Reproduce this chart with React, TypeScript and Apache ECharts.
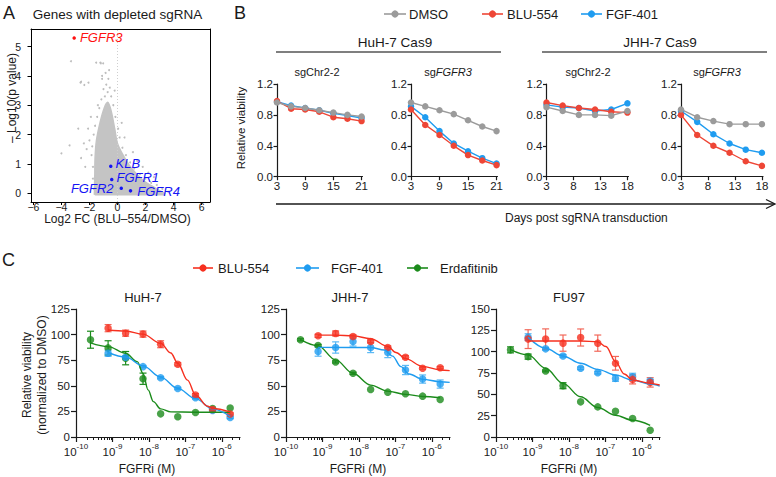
import React, { useEffect, useRef } from "react";
import * as echarts from "echarts";

const FONT = '"Liberation Sans", Arial, Helvetica, sans-serif';
const INK = "#1a1a1a";

const A_X_TICKS = [-6, -4, -2, 0, 2, 4, 6];
const A_Y_TICKS = [0, 1, 2, 3, 4, 5];
const A_CLOUD_TOP = [
  [-1.65, -0.05], [-1.62, 0.6], [-1.6, 1.2], [-1.5, 1.8], [-1.25, 2.4], [-0.95, 2.9],
  [-0.7, 3.1], [-0.45, 2.8], [-0.2, 2.2], [0.0, 1.7], [0.4, 1.3], [1.0, 0.85],
  [1.8, 0.45], [2.8, 0.15], [3.4, -0.02],
];
const A_CLOUD_HALO = [
  [-0.9, 3.3], [-0.7, 3.45], [-0.55, 3.6], [-0.8, 3.7], [-1.0, 3.55], [-0.65, 3.9], [-0.45, 3.3],
  [-1.15, 3.2], [-0.3, 3.0], [-1.3, 2.9], [-1.45, 2.6], [-0.15, 2.6], [-1.6, 2.3], [-1.7, 2.0],
  [0.05, 2.2], [0.15, 1.9], [-1.8, 1.6], [-1.85, 1.3], [0.35, 1.55], [0.6, 1.3], [-1.75, 0.9],
  [0.9, 1.05], [1.2, 0.85], [-1.75, 0.5], [1.6, 0.65], [2.0, 0.5], [2.4, 0.35], [2.8, 0.28],
  [3.2, 0.15], [3.6, 0.05], [-1.7, 0.15], [-2.0, 1.8], [-2.2, 1.5], [-2.4, 1.7], [-2.1, 2.2],
  [-1.9, 2.6], [-1.4, 3.0], [-1.1, 3.9], [-0.85, 4.1], [-0.6, 4.2], [0.3, 2.4], [0.5, 1.9],
  [1.1, 1.4], [1.4, 1.1], [-2.6, 1.2], [-3.42, 1.63], [-4.0, 1.36], [-2.64, 3.77], [-2.07, 3.77],
  [-2.6, 3.8], [-2.37, 3.69], [-1.52, 4.45], [-1.22, 4.45], [-1.19, 4.43], [-1.02, 4.43],
  [-3.32, 4.5], [-1.1, 4.0], [-0.2, 3.5], [2.2, 0.7], [2.6, 0.55], [1.8, 0.9], [-2.3, 0.9],
  [-2.8, 2.2],
];
const A_ZERO_LINE = [[0, -0.3], [0, 5.6]];
const A_RED_GENES = ["FGFR3"];
const A_RED_X = [-3.09];
const A_RED_Y = [5.29];
const A_BLUE_GENES = ["KLB", "FGFR1", "FGFR2", "FGFR4"];
const A_BLUE_X = [-0.48, -0.41, 0.27, 0.93];
const A_BLUE_Y = [0.92, 0.47, 0.17, 0.08];

const B_DAYS_HUH = [3, 6, 9, 12, 15, 18, 21];
const B_DAYS_JHH = [3, 6, 9, 12, 15, 18];
const B_TICKS_HUH = [3, 9, 15, 21];
const B_TICKS_JHH = [3, 8, 13, 18];
const B_HUH_CHR_DMSO = [0.96, 0.91, 0.89, 0.86, 0.83, 0.8, 0.78];
const B_HUH_CHR_BLU = [0.98, 0.88, 0.87, 0.84, 0.77, 0.75, 0.72];
const B_HUH_CHR_FGF = [0.97, 0.92, 0.89, 0.86, 0.82, 0.79, 0.76];
const B_HUH_FGFR3_DMSO = [0.96, 0.91, 0.86, 0.81, 0.73, 0.65, 0.59];
const B_HUH_FGFR3_BLU = [0.87, 0.67, 0.54, 0.4, 0.28, 0.21, 0.15];
const B_HUH_FGFR3_FGF = [0.91, 0.77, 0.59, 0.43, 0.33, 0.24, 0.17];
const B_JHH_CHR_DMSO = [0.9, 0.85, 0.8, 0.8, 0.79, 0.85];
const B_JHH_CHR_BLU = [0.96, 0.92, 0.89, 0.87, 0.84, 0.83];
const B_JHH_CHR_FGF = [0.93, 0.9, 0.89, 0.85, 0.87, 0.95];
const B_JHH_FGFR3_DMSO = [0.87, 0.77, 0.72, 0.68, 0.68, 0.68];
const B_JHH_FGFR3_BLU = [0.8, 0.54, 0.4, 0.31, 0.2, 0.14];
const B_JHH_FGFR3_FGF = [0.85, 0.71, 0.55, 0.43, 0.35, 0.31];

const C_CONC = [2.5e-10, 7.6e-10, 2.3e-9, 6.9e-9, 2.1e-8, 6.2e-8, 1.9e-7, 5.6e-7, 1.7e-6];
const C_X_TICKS = [-10, -9, -8, -7, -6];
const C_HUH_BLU = [106.3, 101.4, 100.5, 90.6, 71.0, 40.9, 26.8, 22.5];
const C_HUH_BLU_ERR = [3.5, 3, 3, 3.4, 1.5, 1.5, 1, 1];
const C_HUH_FGF = [81.8, 77.9, 68.7, 57.9, 47.4, 38.3, 25.8, 19.0];
const C_HUH_FGF_ERR = [3, 1.5, 1, 1, 1, 1, 1.5, 1];
const C_HUH_ERDA = [95.0, 87.0, 77.0, 56.9, 22.6, 19.8, 24.0, 27.8, 28.3];
const C_HUH_ERDA_ERR = [8.3, 7, 6.5, 5.5, 0, 0, 0, 0, 0];
const C_HUH_BLU_CURVE = [[7.6e-10, 104.5], [2.3e-9, 103.5], [6.9e-9, 100.5], [2.1e-8, 91.5], [4e-8, 82], [6.2e-8, 72], [1.15e-7, 55.5], [1.9e-7, 41], [4.1e-7, 30], [5.6e-7, 27.8], [1.7e-6, 24.5]];
const C_HUH_FGF_CURVE = [[7.6e-10, 82.5], [2.3e-9, 78], [6.9e-9, 69.5], [2.1e-8, 58.5], [6.2e-8, 47.5], [1.9e-7, 37.5], [5.6e-7, 27.5], [1.7e-6, 20]];
const C_HUH_ERDA_CURVE = [[2.5e-10, 92], [7.6e-10, 88.3], [2.3e-9, 81.8], [4.8e-9, 73.6], [6.9e-9, 62], [9.5e-9, 46], [1.33e-8, 34.5], [2.1e-8, 27.5], [4e-8, 24.5], [1.75e-7, 24.2], [1.7e-6, 24.2]];
const C_JHH_BLU = [98.8, 101.1, 98.2, 93.3, 87.4, 77.9, 67.1, 67.7];
const C_JHH_BLU_ERR = [1.5, 2.5, 1.5, 1.5, 1.5, 1.5, 1, 1];
const C_JHH_FGF = [83.4, 87.4, 93.3, 87.4, 82.5, 65.4, 56.6, 51.7];
const C_JHH_FGF_ERR = [4.5, 5.5, 4.5, 5, 5, 4.5, 4, 4];
const C_JHH_ERDA = [94.9, 89.3, 73.3, 62.2, 46.5, 43.8, 42.2, 39.9, 36.6];
const C_JHH_ERDA_ERR = [1, 1, 1, 1, 0, 0, 0, 0, 0];
const C_JHH_BLU_CURVE = [[7.6e-10, 99.5], [2.3e-9, 99.5], [6.9e-9, 98.8], [2.1e-8, 96], [6.2e-8, 88.5], [1.04e-7, 82.5], [1.9e-7, 76.5], [5.6e-7, 69], [1.7e-6, 65.5], [3.1e-6, 64.8]];
const C_JHH_FGF_CURVE = [[7.6e-10, 87.5], [2.1e-8, 87.4], [5e-8, 85], [8.4e-8, 79], [1.42e-7, 68.7], [2.4e-7, 61.5], [5.6e-7, 56.3], [1.7e-6, 54], [3.1e-6, 53.3]];
const C_JHH_ERDA_CURVE = [[2.5e-10, 95], [7.6e-10, 89], [2.3e-9, 75.3], [6.9e-9, 62.2], [2.1e-8, 50.7], [6.2e-8, 44.8], [1.9e-7, 41.6], [5.6e-7, 39.6], [1.7e-6, 38.3]];
const C_FU_BLU = [114.7, 114.7, 110, 116.6, 110, 86.4, 67.5, 64.0];
const C_FU_BLU_ERR = [11, 12, 9.5, 10, 9.5, 8, 5.3, 5.5];
const C_FU_FGF = [117, 103.3, 95, 80.5, 75.4, 68.7, 70.7, 65.6];
const C_FU_FGF_ERR = [4, 1.5, 1.5, 1.5, 1.5, 3.5, 4, 2];
const C_FU_ERDA = [102.1, 94.2, 77.4, 60.1, 41.2, 35.3, 30.2, 21.6, 7.9];
const C_FU_ERDA_ERR = [3.5, 3, 1, 3.5, 0, 0, 0, 0, 0];
const C_FU_BLU_CURVE = [[7.6e-10, 112.5], [2.1e-8, 112.5], [6.2e-8, 111.5], [1.04e-7, 106], [1.9e-7, 88.4], [3.3e-7, 73.8], [5.6e-7, 66.8], [1.7e-6, 62.8], [3.1e-6, 61]];
const C_FU_FGF_CURVE = [[7.6e-10, 117], [2.3e-9, 104], [6.9e-9, 95], [2.1e-8, 86.4], [6.2e-8, 79.3], [1.9e-7, 72.6], [5.6e-7, 66.8], [1.7e-6, 62], [3.1e-6, 59.7]];
const C_FU_ERDA_CURVE = [[2.5e-10, 102.5], [7.6e-10, 96.2], [2.3e-9, 80.5], [6.9e-9, 62.8], [2.1e-8, 47.1], [6.2e-8, 34.6], [1.9e-7, 25.5], [5.6e-7, 19.6], [1.7e-6, 13.7]];

const GREY = "#9b9b9b";
const RED_B = "#ee4636";
const BLUE = "#1f9cf0";
const RED_C = "#f6301f";
const GREEN = "#1b8b1b";
const RED_ERR = "#f2685a";
const BLUE_ERR = "#5cb9f4";

function txt(x: number, y: number, text: string, size: number, extra: any = {}, styleExtra: any = {}) {
  return {
    type: "text", x, y, silent: true, ...extra,
    style: {
      text, fontSize: size, fontFamily: FONT, fill: INK,
      align: "center", verticalAlign: "middle", textAlign: "center", textVerticalAlign: "middle",
      ...styleExtra,
    },
  };
}

function legendItem(x1: number, x2: number, y: number, color: string, label: string, textX: number) {
  return [
    { type: "line", silent: true, shape: { x1, y1: y, x2, y2: y }, style: { stroke: color, lineWidth: 1.6 } },
    { type: "circle", silent: true, shape: { cx: (x1 + x2) / 2, cy: y, r: 3.6 }, style: { fill: color } },
    txt(textX, y, label, 13, {}, { align: "left", textAlign: "left" }),
  ];
}

// label placement (style only, kept apart from the data)
const A_BLUE_LABEL_POS = ["right", "right", "left", "right"];
const A_BLUE_LABEL_DIST = [3, 3, 6, 5];
const A_BLUE_LABEL_DY = [-3, -2, 0, 1];

function buildOption() {
  const grids: any[] = [];
  const xAxes: any[] = [];
  const yAxes: any[] = [];
  const series: any[] = [];

  // ---------- Panel A ----------
  grids.push({ left: 31, top: 29, width: 179, height: 173, show: false });
  xAxes.push({
    type: "value", gridIndex: 0, min: -6.17, max: 6.6, position: "bottom",
    axisLine: { show: true, onZero: false, lineStyle: { color: "#000", width: 1 } },
    splitLine: { show: false }, splitArea: { show: false },
    axisTick: { show: true, length: 3, lineStyle: { color: "#000" }, customValues: A_X_TICKS },
    axisLabel: { customValues: A_X_TICKS, fontSize: 10.5, lineHeight: 10, color: INK, fontFamily: FONT, margin: 0, formatter: (v: number) => (v < 0 ? "\u2212" + Math.abs(v) : String(v)) },
  });
  yAxes.push({
    type: "value", gridIndex: 0, min: -0.3, max: 5.6, position: "left",
    axisLine: { show: true, onZero: false, lineStyle: { color: "#000", width: 1 } },
    splitLine: { show: false }, splitArea: { show: false },
    axisTick: { show: true, length: 3.5, lineStyle: { color: "#000" }, customValues: A_Y_TICKS },
    axisLabel: { customValues: A_Y_TICKS, fontSize: 10.5, color: INK, fontFamily: FONT, margin: 10 },
  });
  series.push({
    type: "line", xAxisIndex: 0, yAxisIndex: 0, data: A_CLOUD_TOP, symbol: "none", silent: true,
    smooth: 0.3, z: 1,
    lineStyle: { color: "#c4c4c4", width: 1.5 },
    areaStyle: { color: "#c4c4c4", opacity: 1, origin: -0.08 },
  });
  series.push({
    type: "scatter", xAxisIndex: 0, yAxisIndex: 0, data: A_CLOUD_HALO, symbolSize: 2, silent: true, z: 2,
    itemStyle: { color: "#bdbdbd", opacity: 1 },
    markLine: {
      silent: true, symbol: "none", label: { show: false },
      lineStyle: { color: "#cfcfcf", width: 1, type: [1, 2] },
      data: [[{ coord: A_ZERO_LINE[0] }, { coord: A_ZERO_LINE[1] }]],
    },
  });
  series.push({
    type: "scatter", xAxisIndex: 0, yAxisIndex: 0, symbolSize: 3.5, silent: true, z: 5,
    data: A_RED_GENES.map((n, i) => ({ name: n, value: [A_RED_X[i], A_RED_Y[i]] })),
    itemStyle: { color: "#ff1010", opacity: 1 },
    label: { show: true, position: "right", distance: 4, offset: [0, -1], formatter: "{b}", color: "#ff1010", fontSize: 13, lineHeight: 13, fontStyle: "italic", fontFamily: FONT },
  });
  series.push({
    type: "scatter", xAxisIndex: 0, yAxisIndex: 0, symbolSize: 3.5, silent: true, z: 5,
    data: A_BLUE_GENES.map((n, i) => ({
      name: n, value: [A_BLUE_X[i], A_BLUE_Y[i]],
      label: { position: A_BLUE_LABEL_POS[i], distance: A_BLUE_LABEL_DIST[i], offset: [0, A_BLUE_LABEL_DY[i]] },
    })),
    itemStyle: { color: "#1414f5", opacity: 1 },
    label: { show: true, formatter: "{b}", color: "#1414f5", fontSize: 13, lineHeight: 12, fontStyle: "italic", fontFamily: FONT },
  });

  // ---------- Panel B ----------
  const bPanels = [
    { left: 277, width: 85.5, days: B_DAYS_HUH, ticks: B_TICKS_HUH, max: 21.2, dmso: B_HUH_CHR_DMSO, blu: B_HUH_CHR_BLU, fgf: B_HUH_CHR_FGF },
    { left: 411, width: 86.5, days: B_DAYS_HUH, ticks: B_TICKS_HUH, max: 21.2, dmso: B_HUH_FGFR3_DMSO, blu: B_HUH_FGFR3_BLU, fgf: B_HUH_FGFR3_FGF },
    { left: 546.5, width: 82, days: B_DAYS_JHH, ticks: B_TICKS_JHH, max: 18.2, dmso: B_JHH_CHR_DMSO, blu: B_JHH_CHR_BLU, fgf: B_JHH_CHR_FGF },
    { left: 681, width: 82, days: B_DAYS_JHH, ticks: B_TICKS_JHH, max: 18.2, dmso: B_JHH_FGFR3_DMSO, blu: B_JHH_FGFR3_BLU, fgf: B_JHH_FGFR3_FGF },
  ];
  bPanels.forEach((p) => {
    const gi = grids.length;
    grids.push({ left: p.left, top: 84, width: p.width, height: 92.7 });
    xAxes.push({
      type: "value", gridIndex: gi, min: 3, max: p.max,
      axisLine: { show: true, onZero: false, lineStyle: { color: INK, width: 1.2 } },
      splitLine: { show: false },
      axisTick: { show: true, length: 3.5, lineStyle: { color: INK, width: 1.2 }, customValues: p.ticks },
      axisLabel: { customValues: p.ticks, fontSize: 11.5, color: INK, fontFamily: FONT, margin: 3 },
    });
    yAxes.push({
      type: "value", gridIndex: gi, min: 0, max: 1.2, interval: 0.4,
      axisLine: { show: true, onZero: false, lineStyle: { color: INK, width: 1.2 } },
      splitLine: { show: false },
      axisTick: { show: true, length: 3.5, lineStyle: { color: INK, width: 1.2 } },
      axisLabel: { fontSize: 11.5, color: INK, fontFamily: FONT, margin: 4, formatter: (v: number) => v.toFixed(1) },
    });
    const lines: [string, number[], string][] = [
      ["FGF-401", p.fgf, BLUE],
      ["BLU-554", p.blu, RED_B],
      ["DMSO", p.dmso, GREY],
    ];
    lines.forEach(([name, vals, color]) => {
      series.push({
        type: "line", name, xAxisIndex: gi, yAxisIndex: gi, silent: true,
        data: p.days.map((d, j) => [d, vals[j]]),
        symbol: "circle", symbolSize: 6.5, showAllSymbol: true,
        itemStyle: { color }, lineStyle: { color, width: 1.4 },
      });
    });
  });

  // ---------- Panel C ----------
  const cPanels = [
    { left: 76, ymax: 125, blu: C_HUH_BLU, bluErr: C_HUH_BLU_ERR, fgf: C_HUH_FGF, fgfErr: C_HUH_FGF_ERR, erda: C_HUH_ERDA, erdaErr: C_HUH_ERDA_ERR, bluC: C_HUH_BLU_CURVE, fgfC: C_HUH_FGF_CURVE, erdaC: C_HUH_ERDA_CURVE },
    { left: 286, ymax: 125, blu: C_JHH_BLU, bluErr: C_JHH_BLU_ERR, fgf: C_JHH_FGF, fgfErr: C_JHH_FGF_ERR, erda: C_JHH_ERDA, erdaErr: C_JHH_ERDA_ERR, bluC: C_JHH_BLU_CURVE, fgfC: C_JHH_FGF_CURVE, erdaC: C_JHH_ERDA_CURVE },
    { left: 496, ymax: 150, blu: C_FU_BLU, bluErr: C_FU_BLU_ERR, fgf: C_FU_FGF, fgfErr: C_FU_FGF_ERR, erda: C_FU_ERDA, erdaErr: C_FU_ERDA_ERR, bluC: C_FU_BLU_CURVE, fgfC: C_FU_FGF_CURVE, erdaC: C_FU_ERDA_CURVE },
  ];
  const minor: number[] = [];
  for (let d = -10; d <= -6; d++) {
    for (let k = 2; k <= 9; k++) {
      const v = d + Math.log10(k);
      if (v <= -5.5) minor.push(v);
    }
  }
  const cMain: number[] = [];
  cPanels.forEach((p) => {
    const gi = grids.length;
    cMain.push(gi);
    grids.push({ left: p.left, top: 309, width: 164, height: 128 });
    xAxes.push({
      type: "value", gridIndex: gi, min: -10, max: -5.5, position: "bottom",
      axisLine: { show: true, onZero: false, lineStyle: { color: INK, width: 1.2 } },
      splitLine: { show: false },
      axisTick: { show: true, length: 5, lineStyle: { color: INK, width: 1.2 }, customValues: C_X_TICKS },
      axisLabel: {
        customValues: C_X_TICKS, color: INK, fontFamily: FONT, margin: 5,
        formatter: (v: number) => `{b|10}{s|${Math.round(v)}}`,
        rich: {
          b: { fontSize: 11.5, fontFamily: FONT, color: INK, verticalAlign: "bottom", lineHeight: 16 },
          s: { fontSize: 8, fontFamily: FONT, color: INK, verticalAlign: "top", lineHeight: 16 },
        },
      },
    });
    yAxes.push({
      type: "value", gridIndex: gi, min: 0, max: p.ymax, interval: 25,
      axisLine: { show: true, onZero: false, lineStyle: { color: INK, width: 1.2 } },
      splitLine: { show: false },
      axisTick: { show: true, length: 5, lineStyle: { color: INK, width: 1.2 } },
      axisLabel: { fontSize: 11.5, color: INK, fontFamily: FONT, margin: 6 },
    });
  });
  cMain.forEach((gi) => {
    xAxes.push({
      type: "value", gridIndex: gi, min: -10, max: -5.5, position: "bottom",
      axisLine: { show: false }, splitLine: { show: false },
      axisTick: { show: true, length: 3, lineStyle: { color: INK, width: 1 }, customValues: minor },
      axisLabel: { show: false },
    });
  });
  xAxes.push({
    type: "value", gridIndex: 0, min: -6.17, max: 6.6, position: "top",
    axisLine: { show: true, onZero: false, lineStyle: { color: "#000", width: 1 } },
    axisTick: { show: false }, axisLabel: { show: false }, splitLine: { show: false }, splitArea: { show: false },
  });
  yAxes.push({
    type: "value", gridIndex: 0, min: -0.3, max: 5.6, position: "right",
    axisLine: { show: true, onZero: false, lineStyle: { color: "#000", width: 1 } },
    axisTick: { show: false }, axisLabel: { show: false }, splitLine: { show: false }, splitArea: { show: false },
  });

  const errSeries = (gi: number, data: number[][], color: string) => ({
    type: "custom", xAxisIndex: gi, yAxisIndex: gi, silent: true, data,
    renderItem: (_p: any, api: any) => {
      const x = api.value(0), y = api.value(1), e = api.value(2);
      const a = api.coord([x, y + e]);
      const b = api.coord([x, y - e]);
      const w = 3.5;
      const st = { stroke: color, lineWidth: 1.2 };
      return {
        type: "group",
        children: [
          { type: "line", shape: { x1: a[0], y1: a[1], x2: b[0], y2: b[1] }, style: st },
          { type: "line", shape: { x1: a[0] - w, y1: a[1], x2: a[0] + w, y2: a[1] }, style: st },
          { type: "line", shape: { x1: b[0] - w, y1: b[1], x2: b[0] + w, y2: b[1] }, style: st },
        ],
      };
    },
  });

  cPanels.forEach((p, i) => {
    const gi = cMain[i];
    const conc8 = C_CONC.slice(1);
    const drugs: [number[], number[], number[], number[][], string, string][] = [
      [C_CONC, p.erda, p.erdaErr, p.erdaC, GREEN, GREEN],
      [conc8, p.fgf, p.fgfErr, p.fgfC, BLUE, BLUE_ERR],
      [conc8, p.blu, p.bluErr, p.bluC, RED_C, RED_ERR],
    ];
    drugs.forEach(([conc, vals, errs, curve, color, ecolor]) => {
      series.push({
        type: "line", xAxisIndex: gi, yAxisIndex: gi, silent: true, symbol: "none",
        smooth: 0.35, smoothMonotone: "x",
        data: curve.map((c) => [Math.log10(c[0]), c[1]]),
        lineStyle: { color, width: 1.4 },
      });
      const ed = conc.map((c, j) => [Math.log10(c), vals[j], errs[j]]).filter((d) => d[2] > 0);
      series.push(errSeries(gi, ed, ecolor));
      series.push({
        type: "scatter", xAxisIndex: gi, yAxisIndex: gi, silent: true, symbolSize: 7.5,
        data: conc.map((c, j) => [Math.log10(c), vals[j]]),
        itemStyle: { color },
      });
    });
  });

  const g: any[] = [];
  g.push(txt(3, 13, "A", 18, {}, { align: "left", textAlign: "left" }));
  g.push(txt(234, 13, "B", 18, {}, { align: "left", textAlign: "left" }));
  g.push(txt(2, 260, "C", 18, {}, { align: "left", textAlign: "left" }));
  g.push(txt(117.5, 14, "Genes with depleted sgRNA", 13.5));
  g.push(txt(117.5, 219, "Log2 FC (BLU\u2013554/DMSO)", 12));
  g.push(txt(11.5, 98, "\u2013 Log10(p value)", 12, { rotation: Math.PI / 2 }));
  g.push(...legendItem(384, 406, 14, GREY, "DMSO", 409));
  g.push(...legendItem(482, 503, 14, RED_B, "BLU-554", 507));
  g.push(...legendItem(581, 602, 14, BLUE, "FGF-401", 606));
  g.push(txt(395, 42, "HuH-7 Cas9", 13.5));
  g.push(txt(660, 42, "JHH-7 Cas9", 13.5));
  g.push({ type: "line", silent: true, shape: { x1: 276, y1: 52, x2: 501, y2: 52 }, style: { stroke: "#555", lineWidth: 1.3 } });
  g.push({ type: "line", silent: true, shape: { x1: 542, y1: 52, x2: 767, y2: 52 }, style: { stroke: "#555", lineWidth: 1.3 } });
  const subRich = {
    n: { fontSize: 11, fontFamily: FONT, fill: INK },
    i: { fontSize: 11, fontFamily: FONT, fill: INK, fontStyle: "italic" },
  };
  g.push(txt(317, 71.5, "sgChr2-2", 11));
  g.push(txt(448, 71.5, "{n|sg}{i|FGFR3}", 11, {}, { rich: subRich }));
  g.push(txt(588, 71.5, "sgChr2-2", 11));
  g.push(txt(717, 71.5, "{n|sg}{i|FGFR3}", 11, {}, { rich: subRich }));
  g.push(txt(241, 128, "Relative viability", 11.5, { rotation: Math.PI / 2 }));
  g.push({ type: "line", silent: true, shape: { x1: 276, y1: 204, x2: 774, y2: 204 }, style: { stroke: INK, lineWidth: 1.3 } });
  g.push({ type: "polyline", silent: true, shape: { points: [[766, 199.5], [775, 204], [766, 208.5]] }, style: { stroke: INK, lineWidth: 1.3, fill: "none" } });
  g.push(txt(505, 218, "Days post sgRNA transduction", 12, {}, { align: "left", textAlign: "left" }));
  g.push(...legendItem(193, 213, 268, RED_C, "BLU-554", 218));
  g.push(...legendItem(296, 319, 268, BLUE, "FGF-401", 331));
  g.push(...legendItem(407, 428, 268, GREEN, "Erdafitinib", 440));
  g.push(txt(143, 297, "HuH-7", 13));
  g.push(txt(350, 297, "JHH-7", 13));
  g.push(txt(569, 297, "FU97", 13));
  g.push(txt(147, 469, "FGFRi (M)", 12));
  g.push(txt(358, 469, "FGFRi (M)", 12));
  g.push(txt(569, 469, "FGFRi (M)", 12));
  g.push(txt(27, 375, "Relative viability", 12, { rotation: Math.PI / 2 }));
  g.push(txt(42, 375, "(normalized to DMSO)", 12, { rotation: Math.PI / 2 }));

  return {
    animation: false,
    backgroundColor: "#ffffff",
    textStyle: { fontFamily: FONT, color: INK },
    grid: grids,
    xAxis: xAxes,
    yAxis: yAxes,
    series,
    graphic: { elements: g },
  };
}

export default function App() {
  const ref = useRef<HTMLDivElement>(null);
  useEffect(() => {
    if (!ref.current) return;
    const chart = echarts.init(ref.current, null, { renderer: "svg" });
    chart.setOption(buildOption() as any);
    return () => chart.dispose();
  }, []);
  return <div ref={ref} style={{ position: "fixed", left: 0, top: 0, width: 776, height: 477 }} />;
}
